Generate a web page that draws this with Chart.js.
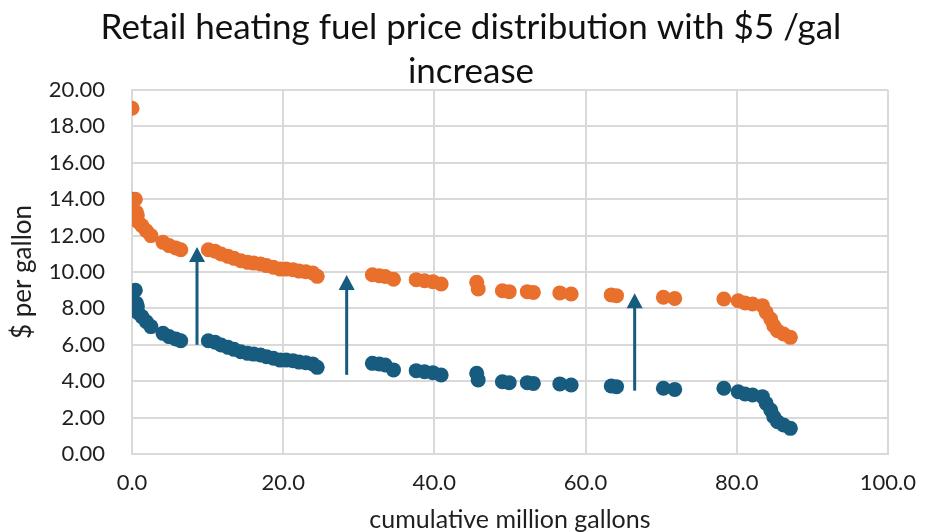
<!DOCTYPE html>
<html>
<head>
<meta charset="utf-8">
<script src="https://cdn.jsdelivr.net/npm/chart.js@4.4.1/dist/chart.umd.min.js"></script>
<style>
	body { margin: 0; background: #ffffff; }
	#wrap { width: 932px; height: 532px; }
</style>
</head>
<body>
<div id="wrap"><canvas id="chart" width="932" height="532"></canvas></div>
<script>
//DATA
var gallons = [0.0, 0.44, 0.6, 0.7, 0.8, 1.3, 1.9, 2.5, 4.1, 4.9, 5.8, 6.45,
	10.1, 11.0, 11.8, 12.7, 13.5, 14.4, 15.3, 16.1, 17.0, 17.8, 18.7, 19.6, 20.4, 21.3, 22.1, 23.0, 23.9, 24.5,
	31.8, 32.7, 33.5, 34.6, 37.6, 38.7, 39.8, 40.9, 45.6, 45.8, 49.0, 49.9, 52.3, 53.1, 56.6, 58.1,
	63.4, 64.1, 70.3, 71.8, 78.3, 80.2, 81.1, 82.1, 83.4, 83.9, 84.5, 84.9, 85.4, 86.2, 87.1];

var priceNow = [14.0, 9.0, 8.28, 8.1, 7.76, 7.55, 7.27, 7.0, 6.63, 6.45, 6.32, 6.22,
	6.22, 6.14, 5.99, 5.86, 5.75, 5.62, 5.53, 5.49, 5.44, 5.35, 5.26, 5.16, 5.16, 5.13, 5.05, 5.02, 4.95, 4.76,
	4.98, 4.95, 4.89, 4.62, 4.58, 4.52, 4.47, 4.34, 4.43, 4.07, 3.97, 3.92, 3.92, 3.88, 3.85, 3.79,
	3.74, 3.70, 3.61, 3.55, 3.61, 3.42, 3.30, 3.24, 3.15, 2.78, 2.42, 2.05, 1.77, 1.59, 1.41];

var priceUp = [19.0, 14.0, 13.28, 13.1, 12.76, 12.55, 12.27, 12.0, 11.63, 11.45, 11.32, 11.22,
	11.22, 11.14, 10.99, 10.86, 10.75, 10.62, 10.53, 10.49, 10.44, 10.35, 10.26, 10.16, 10.16, 10.13, 10.05, 10.02, 9.95, 9.76,
	9.85, 9.8, 9.75, 9.6, 9.58, 9.52, 9.47, 9.34, 9.43, 9.07, 8.97, 8.92, 8.92, 8.88, 8.85, 8.79,
	8.74, 8.70, 8.61, 8.55, 8.52, 8.42, 8.30, 8.24, 8.15, 7.78, 7.42, 7.05, 6.77, 6.59, 6.41];

var arrowX = [8.6, 28.4, 66.5];
var arrowFrom = [6.0, 4.35, 3.48];
var arrowTo = [11.37, 9.83, 8.83];

var BLUE = '#175B7F';
var ORANGE = '#E96F2D';
var FONT = 'Lato, "Open Sans", sans-serif';

function toPoints(xs, ys){
	var pts = new Array();
	for(var i=0;i<xs.length;i++){
		pts[i] = {x: xs[i], y: ys[i]};
	}
	return pts;
}

// arrows from base price up to the +$5 price
var arrowPlugin = {
	id: 'arrows',
	afterDatasetsDraw: function(chart){
		var ctx = chart.ctx;
		var sx = chart.scales.x;
		var sy = chart.scales.y;
		ctx.save();
		ctx.strokeStyle = BLUE;
		ctx.fillStyle = BLUE;
		ctx.lineWidth = 3;
		for(var i=0;i<arrowX.length;i++){
			var px = sx.getPixelForValue(arrowX[i]);
			var y1 = sy.getPixelForValue(arrowFrom[i]);
			var y2 = sy.getPixelForValue(arrowTo[i]);
			ctx.beginPath();
			ctx.moveTo(px, y1);
			ctx.lineTo(px, y2 + 12);
			ctx.stroke();
			ctx.beginPath();
			ctx.moveTo(px, y2);
			ctx.lineTo(px - 8, y2 + 15);
			ctx.lineTo(px + 8, y2 + 15);
			ctx.closePath();
			ctx.fill();
		}
		ctx.restore();
	}
};

new Chart(document.getElementById('chart'), {
	type: 'scatter',
	data: {
		datasets: [{
			label: 'with $5 /gal increase',
			data: toPoints(gallons, priceUp),
			backgroundColor: ORANGE,
			borderWidth: 0,
			pointRadius: 7.5,
			pointHoverRadius: 7.5
		}, {
			label: 'current',
			data: toPoints(gallons, priceNow),
			backgroundColor: BLUE,
			borderWidth: 0,
			pointRadius: 7.5,
			pointHoverRadius: 7.5
		}]
	},
	options: {
		responsive: false,
		animation: false,
		layout: {
			padding: {left: 10, right: 0, top: 0, bottom: 0}
		},
		scales: {
			x: {
				min: 0,
				max: 100,
				afterFit: function(scale){ scale.height = 78; },
				border: {color: '#d9d9d9', width: 2},
				grid: {color: '#d9d9d9', lineWidth: 2, drawTicks: false},
				ticks: {
					stepSize: 20,
					padding: 16,
					color: '#1f1f1f',
					font: {family: FONT, size: 22},
					callback: function(v){ return v.toFixed(1); }
				},
				title: {
					display: true,
					text: 'cumulative million gallons',
					color: '#1f1f1f',
					font: {family: FONT, size: 25, lineHeight: 1},
					padding: {top: 0, bottom: 0}
				}
			},
			y: {
				min: 0,
				max: 20,
				afterFit: function(scale){ scale.width = 122; },
				border: {color: '#d9d9d9', width: 2},
				grid: {color: '#d9d9d9', lineWidth: 2, drawTicks: false},
				ticks: {
					stepSize: 2,
					padding: 27,
					color: '#1f1f1f',
					font: {family: FONT, size: 22},
					callback: function(v){ return v.toFixed(2); }
				},
				title: {
					display: true,
					text: '$ per gallon',
					color: '#1f1f1f',
					font: {family: FONT, size: 26, lineHeight: 1},
					padding: {top: 0, bottom: 0}
				}
			},
			// empty right margin so the plot ends at 100.0
			yRight: {
				position: 'right',
				display: true,
				afterFit: function(scale){ scale.width = 27; },
				border: {display: false},
				grid: {display: false},
				ticks: {display: false}
			}
		},
		plugins: {
			legend: {display: false},
			tooltip: {enabled: false},
			title: {
				display: true,
				text: ['Retail heating fuel price distribution with $5 /gal', 'increase'],
				color: '#111111',
				font: {family: FONT, size: 35, weight: 'normal', lineHeight: 1.257},
				padding: {top: 6, bottom: -4}
			}
		}
	},
	plugins: [arrowPlugin]
});
</script>
</body>
</html>
